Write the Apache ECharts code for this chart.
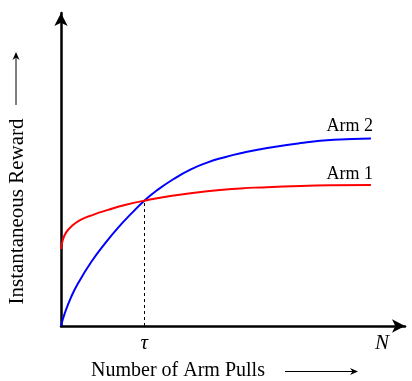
<!DOCTYPE html>
<html>
<head>
<meta charset="utf-8">
<script src="https://cdn.jsdelivr.net/npm/echarts@6/dist/echarts.min.js"></script>
<style>
  html, body { margin: 0; padding: 0; background: #fff; }
  #chart { width: 412px; height: 381px; }
</style>
</head>
<body>
<div id="chart"></div>
<script>
// values (x: pulls, 0..100 ; y: reward, 0..100)
var pullsArm1 = [0, 0.5, 1.5, 3.2, 5.8, 9.5, 13.7, 18.57, 24.2, 32.74, 42.48, 52.19, 58.02, 69.68, 79.3, 90.09];
var rewardArm1 = [24.6, 27.4, 29.9, 32, 33.95, 35.6, 37.1, 38.66, 40.03, 41.69, 43.07, 43.96, 44.28, 44.73, 44.95, 45.05];
var pullsArm2 = [0, 1.08, 3, 4.96, 8.83, 12.74, 16.62, 20.5, 24.2, 27.9, 32.74, 37.6, 42.48, 47.3, 52.19, 59.97, 69.68, 79.3, 90.09];
var rewardArm2 = [0, 4.03, 9.39, 13.64, 20.51, 26.33, 31.44, 35.97, 40.03, 43.35, 46.96, 49.97, 52.2, 53.85, 55.2, 56.9, 58.45, 59.5, 59.94];
var tau = 24.2;
var tauReward = 40.03;
var bigN = 93.3;
var tickLabels = ['τ', 'N'];
var seriesNames = ['Arm 1', 'Arm 2'];

var serif = "'Liberation Serif', 'DejaVu Serif', serif";

function pairs(xs, ys) {
    var out = [];
    for (var i = 0; i < xs.length; i++) out.push([xs[i], ys[i]]);
    return out;
}

function endLabel(xs, ys, name, dist) {
    var n = xs.length - 1;
    return {
        symbol: 'circle',
        symbolSize: 1,
        itemStyle: {color: 'rgba(0,0,0,0)'},
        label: {
            show: true,
            position: 'top',
            align: 'right',
            distance: dist,
            offset: [2, 0],
            formatter: name,
            color: '#000',
            fontFamily: serif,
            fontSize: 18
        },
        data: [{coord: [xs[n], ys[n]]}]
    };
}

var chart = echarts.init(document.getElementById('chart'), null, {renderer: 'canvas'});

var option = {
    animation: false,
    grid: {left: 61, right: 7, top: 13, bottom: 55, outerBoundsMode: 'none'},
    xAxis: {
        type: 'value',
        min: 0,
        max: 100,
        splitLine: {show: false},
        axisTick: {show: false},
        axisLine: {
            show: true,
            onZero: false,
            symbol: ['none', 'arrow'],
            symbolSize: [10, 13],
            lineStyle: {color: '#000', width: 2.5}
        },
        axisLabel: {
            customValues: [tau, bigN],
            formatter: function (v) {
                return v === tau ? tickLabels[0] : tickLabels[1];
            },
            margin: 7,
            color: '#000',
            fontStyle: 'italic',
            fontFamily: serif,
            fontSize: 21
        },
        name: 'Number of Arm Pulls',
        nameLocation: 'middle',
        nameGap: 35,
        nameTextStyle: {
            color: '#000',
            fontFamily: serif,
            fontSize: 20,
            padding: [0, 110, 0, 0]
        }
    },
    yAxis: {
        type: 'value',
        min: 0,
        max: 100,
        splitLine: {show: false},
        axisTick: {show: false},
        axisLabel: {show: false},
        axisLine: {
            show: true,
            symbol: ['none', 'arrow'],
            symbolSize: [10, 13],
            lineStyle: {color: '#000', width: 2.5}
        },
        name: 'Instantaneous Reward',
        nameLocation: 'middle',
        nameGap: 33,
        nameTextStyle: {
            color: '#000',
            fontFamily: serif,
            fontSize: 21,
            padding: [0, 84, 0, 0]
        }
    },
    graphic: [
        // little arrows next to the axis titles
        {type: 'line', shape: {x1: 285, y1: 371.5, x2: 355, y2: 371.5}, style: {stroke: '#000', lineWidth: 1}},
        {type: 'polygon', shape: {points: [[358, 371.5], [350, 368], [352.5, 371.5], [350, 375]]}, style: {fill: '#000'}},
        {type: 'line', shape: {x1: 16, y1: 105, x2: 16, y2: 55}, style: {stroke: '#000', lineWidth: 1}},
        {type: 'polygon', shape: {points: [[16, 52], [12.5, 60], [16, 57.5], [19.5, 60]]}, style: {fill: '#000'}}
    ],
    series: [
        {
            name: seriesNames[1],
            type: 'line',
            data: pairs(pullsArm2, rewardArm2),
            smooth: 0.5,
            showSymbol: false,
            lineStyle: {color: '#0000ff', width: 2},
            markPoint: endLabel(pullsArm2, rewardArm2, seriesNames[1], 3),
            z: 2
        },
        {
            name: seriesNames[0],
            type: 'line',
            data: pairs(pullsArm1, rewardArm1),
            smooth: 0.5,
            showSymbol: false,
            lineStyle: {color: '#ff0000', width: 2},
            markPoint: endLabel(pullsArm1, rewardArm1, seriesNames[0], 1),
            markLine: {
                silent: true,
                symbol: ['none', 'none'],
                label: {show: false},
                lineStyle: {color: '#000', width: 1, type: [3, 3]},
                data: [[{coord: [tau, 0]}, {coord: [tau, tauReward]}]]
            },
            z: 3
        }
    ]
};

chart.setOption(option);
</script>
</body>
</html>
